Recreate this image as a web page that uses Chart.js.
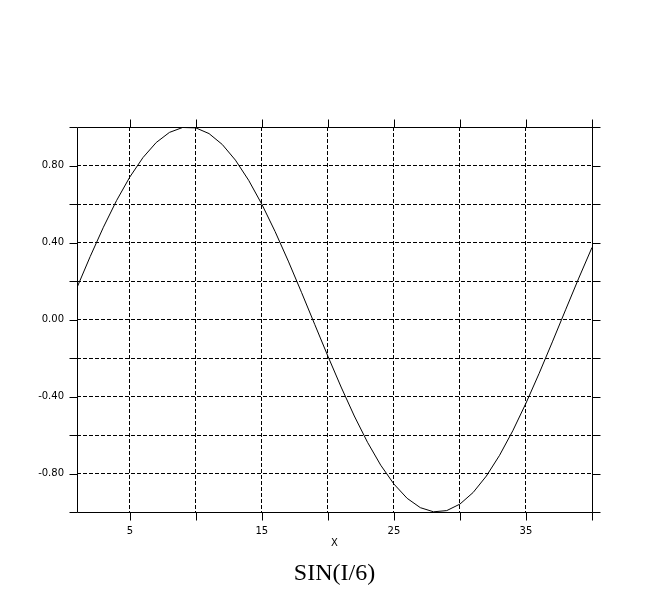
<!DOCTYPE html>
<html>
<head>
<meta charset="utf-8">
<script src="https://cdn.jsdelivr.net/npm/chart.js@4/dist/chart.umd.min.js"></script>
<style>
html,body{margin:0;padding:0;background:#fff;}
#wrap{width:655px;height:603px;position:relative;}
</style>
</head>
<body>
<div id="wrap"><canvas id="c" width="655" height="603"></canvas></div>
<script>
// Data (I = 1..40)
const xValues = [1,2,3,4,5,6,7,8,9,10,11,12,13,14,15,16,17,18,19,20,21,22,23,24,25,26,27,28,29,30,31,32,33,34,35,36,37,38,39,40];
const yValues = [0.1659,0.3272,0.4794,0.6184,0.7402,0.8415,0.9194,0.9719,0.9975,0.9954,0.9657,0.9093,0.8277,0.7231,0.5985,0.4573,0.3034,0.1411,-0.0251,-0.1906,-0.3508,-0.5013,-0.6378,-0.7568,-0.8548,-0.9290,-0.9775,-0.9990,-0.9927,-0.9589,-0.8986,-0.8133,-0.7055,-0.5782,-0.4348,-0.2794,-0.1163,0.0501,0.2151,0.3742];
const xTicks = [5,10,15,20,25,30,35,40];
const xLabelTicks = [5,15,25,35];
const yTicks = [-1,-0.8,-0.6,-0.4,-0.2,0,0.2,0.4,0.6,0.8,1];
const yLabelTicks = [-0.8,-0.4,0,0.4,0.8];
const titleText = 'SIN(I/6)';
const xTitle = 'X';

const points = xValues.map((x,i)=>({x:x,y:yValues[i]}));

const frame = {
  id:'frame',
  afterDatasetsDraw(chart){
    const {ctx, chartArea:a, scales:{x,y}} = chart;
    ctx.save();
    ctx.strokeStyle='#000';
    ctx.lineWidth=1;
    ctx.setLineDash([]);
    ctx.beginPath();
    const L=Math.round(a.left)+0.5, R=Math.round(a.right)+0.5, T=Math.round(a.top)+0.5, B=Math.round(a.bottom)+0.5;
    ctx.rect(L,T,R-L,B-T);
    const tl=8;
    xTicks.forEach(v=>{
      const px=Math.round(x.getPixelForValue(v))+0.5;
      ctx.moveTo(px,T-tl); ctx.lineTo(px,T);
      ctx.moveTo(px,B); ctx.lineTo(px,B+tl);
    });
    yTicks.forEach(v=>{
      const py=Math.round(y.getPixelForValue(v))+0.5;
      ctx.moveTo(L-tl,py); ctx.lineTo(L,py);
      ctx.moveTo(R,py); ctx.lineTo(R+tl,py);
    });
    ctx.stroke();
    ctx.restore();
  }
};

new Chart(document.getElementById('c'), {
  type:'line',
  data:{datasets:[{data:points,borderColor:'#000',borderWidth:1,pointRadius:0,tension:0,fill:false}]},
  options:{
    responsive:false,
    animation:false,
    layout:{padding:{top:127,right:63,left:0,bottom:0}},
    plugins:{
      legend:{display:false},
      tooltip:{enabled:false},
      title:{display:true,text:titleText,position:'bottom',fullSize:false,color:'#000',
        font:{family:'Liberation Serif',size:24,weight:'normal',lineHeight:1.1},padding:{top:4,bottom:16}}
    },
    scales:{
      x:{type:'linear',min:1,max:40,
        afterBuildTicks(s){s.ticks=xTicks.map(v=>({value:v}));},
        afterFit(s){s.height=44.6;},
        grid:{color:'#000',lineWidth:1,drawTicks:false},
        border:{display:false,dash:[4,2]},
        ticks:{padding:13,color:'#000',font:{family:'DejaVu Sans',size:10},maxRotation:0,autoSkip:false,
          callback:(v)=>xLabelTicks.includes(v)?String(v):''},
        title:{display:true,text:xTitle,color:'#000',font:{family:'DejaVu Sans',size:10},padding:{top:0,bottom:7}}
      },
      y:{type:'linear',min:-1,max:1,
        afterBuildTicks(s){s.ticks=yTicks.map(v=>({value:v}));},
        afterFit(s){s.width=77;},
        grid:{color:(c)=>(c.tick&&(c.tick.value===1||c.tick.value===-1))?'rgba(0,0,0,0)':'#000',lineWidth:1,drawTicks:false},
        border:{display:false,dash:[4,2]},
        ticks:{padding:13,color:'#000',font:{family:'DejaVu Sans',size:10},autoSkip:false,
          callback:(v)=>yLabelTicks.some(t=>Math.abs(t-v)<1e-9)?v.toFixed(2):''}
      }
    }
  },
  plugins:[frame]
});
</script>
</body>
</html>
